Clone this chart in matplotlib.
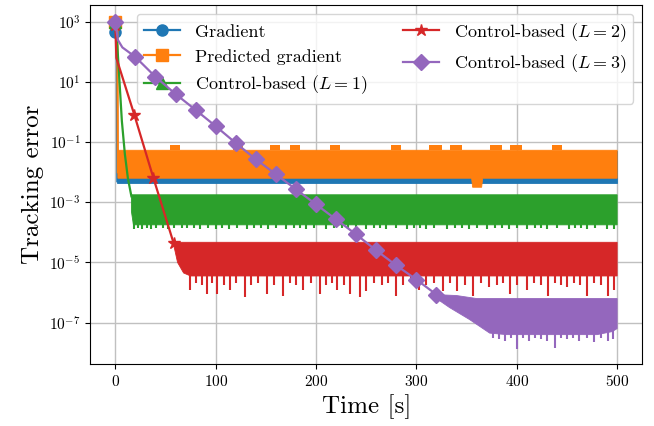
import numpy as np
import matplotlib
matplotlib.use("Agg")
import matplotlib.pyplot as plt
from matplotlib.ticker import FixedLocator, NullLocator

plt.rcParams.update({
    "font.family": "serif",
    "font.serif": ["cmr10"],
    "mathtext.fontset": "cm",
    "axes.formatter.use_mathtext": True,
})

# ---------------- data (log10 of tracking error) ----------------
labels = ["Gradient", "Predicted gradient", r"Control-based ($L=1$)",
          r"Control-based ($L=2$)", r"Control-based ($L=3$)"]
colors = ["#1f77b4", "#ff7f0e", "#2ca02c", "#d62728", "#9467bd"]
markers = ["o", "s", "^", "*", "D"]

# transient parts
grad_t = [0, 1.5, 2.0]
grad_v = [2.67, 2.6, -2.3]
pred_t = [0, 2.0, 2.5]
pred_v = [3.0, 2.9, -2.0]
l1_t = [0, 1, 2, 6.5, 9.5, 12.5, 16]
l1_v = [3.0, 2.5, 2.2, -0.3, -1.4, -2.2, -2.8]
l2_t = [0, 1, 19, 38, 58]
l2_v = [2.9, 1.8, -0.1, -2.2, -4.35]
l3_t = [0, 2.5, 7, 20, 40, 60, 80, 100, 120, 140, 160, 180, 200, 220, 240,
        260, 280, 300, 320]
l3_v = [3.0, 2.4, 2.15, 1.83, 1.17, 0.6, 0.07, -0.47, -1.03, -1.57, -2.07,
        -2.57, -3.07, -3.57, -4.07, -4.6, -5.1, -5.57, -6.07]

# steady-state oscillation bands: upper edge and lower edge
grad_hi_t = [2, 500]
grad_hi = [-1.3, -1.3]
grad_lo_t = [2, 500]
grad_lo = [-2.35, -2.35]

pred_hi_t = [2.5, 500]
pred_hi = [-1.27, -1.27]
pred_lo_t = [2.5, 355, 356, 365, 366, 500]
pred_lo = [-2.2, -2.2, -2.5, -2.5, -2.2, -2.2]
pred_bump_start = [54, 117, 154, 174, 214, 275, 313, 333, 373, 393, 435]
pred_bump_end = [64, 127, 164, 184, 224, 285, 325, 345, 385, 405, 445]
pred_bump_top = -1.1

l1_hi_t = [16, 500]
l1_hi = [-2.75, -2.75]
l1_lo_t = [16, 18, 500]
l1_lo = [-3.3, -3.75, -3.75]
l1_spike_t = [19, 23, 27, 32, 36, 41, 47, 52, 58, 66, 71, 78, 84, 92, 100,
              106, 113, 121, 131, 138, 145, 152, 160, 170, 178, 184, 190, 198,
              210, 218, 226, 232, 240, 250, 258, 264, 270, 280, 291, 298, 304,
              310, 318, 330, 338, 345, 352, 360, 370, 378, 385, 392, 400, 410,
              418, 424, 430, 440, 452, 458, 464, 470, 478, 490, 497]
l1_spike_v = [-3.9, -3.85, -3.88, -3.84, -3.9, -3.86, -3.84, -3.9, -3.86,
              -3.87, -3.84, -3.85, -3.9, -3.85, -3.9, -3.84, -3.88, -3.86,
              -3.9, -3.84, -3.86, -3.9, -3.85, -3.88, -3.84, -3.86, -3.9,
              -3.85, -3.9, -3.86, -3.84, -3.88, -3.85, -3.9, -3.84, -3.86,
              -3.9, -3.85, -3.88, -3.84, -3.86, -3.9, -3.85, -3.9, -3.84,
              -3.86, -3.88, -3.85, -3.9, -3.84, -3.86, -3.9, -3.85, -3.88,
              -3.84, -3.86, -3.9, -3.85, -3.9, -3.84, -3.86, -3.88, -3.85,
              -3.9, -3.9]

l2_hi_t = [58, 500]
l2_hi = [-4.33, -4.33]
l2_lo_t = [58, 62, 68, 75, 500]
l2_lo = [-4.4, -5.0, -5.35, -5.45, -5.45]
l2_spike_t = [74, 80, 86, 91, 96, 101, 108, 114, 120, 129, 135, 142, 151,
              158, 167, 174, 180, 187, 195, 204, 210, 216, 221, 228, 234, 244,
              250, 258, 266, 272, 280, 287, 295, 303, 310, 318, 326, 333, 340,
              348, 356, 364, 372, 380, 386, 393, 400, 410, 417, 424, 431, 438,
              444, 450, 457, 463, 470, 477, 484, 491, 497]
l2_spike_v = [-5.9, -5.7, -5.75, -6.05, -5.7, -6.05, -5.75, -5.9, -5.7, -6.15,
              -5.75, -5.7, -6.05, -5.75, -6.1, -5.7, -5.75, -5.9, -5.7, -6.05,
              -5.75, -5.7, -5.9, -5.75, -6.05, -6.15, -5.95, -5.7, -5.75,
              -5.7, -6.1, -5.75, -5.7, -5.9, -5.75, -5.7, -5.95, -5.7, -5.95,
              -5.75, -6.1, -5.7, -5.8, -5.75, -5.7, -6.05, -5.75, -5.9, -5.7,
              -5.75, -6.1, -5.7, -5.75, -5.8, -5.7, -5.75, -6.1, -5.7, -5.75,
              -6.1, -5.9]

l3_hi_t = [320, 340, 360, 500]
l3_hi = [-6.07, -6.1, -6.2, -6.2]
l3_lo_t = [320, 333, 353, 373, 390, 420, 450, 480, 495, 500]
l3_lo = [-6.2, -6.5, -6.9, -7.35, -7.4, -7.4, -7.4, -7.4, -7.3, -7.2]
l3_spike_t = [376, 382, 388, 394, 400, 406, 412, 418, 424, 430, 438, 444,
              450, 456, 462, 470, 477, 484, 491, 496]
l3_spike_v = [-7.5, -7.55, -7.6, -7.5, -7.87, -7.5, -7.6, -7.5, -7.55, -7.6,
              -7.83, -7.5, -7.55, -7.5, -7.6, -7.5, -7.65, -7.5, -7.6, -7.55]

# ---------------- plotting ----------------
fig = plt.figure(figsize=(6.54, 4.26), dpi=100)
ax = fig.add_axes([0.138, 0.146, 0.844, 0.843])
ax.set_yscale("log")


def pw(v):
    return 10.0 ** np.asarray(v, dtype=float)


def band(ax, hi_t, hi, lo_t, lo, c, z):
    xs = np.r_[hi_t, lo_t[::-1]]
    ys = np.r_[hi, lo[::-1]]
    ax.fill(xs, pw(ys), color=c, lw=0.6, ec=c, zorder=z)


series = [
    (grad_t, grad_v, grad_hi_t, grad_hi, grad_lo_t, grad_lo, None, None),
    (pred_t, pred_v, pred_hi_t, pred_hi, pred_lo_t, pred_lo, None, None),
    (l1_t, l1_v, l1_hi_t, l1_hi, l1_lo_t, l1_lo, l1_spike_t, l1_spike_v),
    (l2_t, l2_v, l2_hi_t, l2_hi, l2_lo_t, l2_lo, l2_spike_t, l2_spike_v),
    (l3_t, l3_v, l3_hi_t, l3_hi, l3_lo_t, l3_lo, l3_spike_t, l3_spike_v),
]
mevery = [[0], [0], [0], [0, 2, 3, 4], [0] + list(range(3, len(l3_t)))]
msizes = [8, 8, 8, 9, 8]

for i, (tt, vv, ht, hv, lt, lv, st, sv) in enumerate(series):
    z = 2 + i
    c = colors[i]
    band(ax, ht, hv, lt, lv, c, z)
    if i == 1:
        for a, b in zip(pred_bump_start, pred_bump_end):
            ax.fill([a, b, b, a], pw([pred_bump_top, pred_bump_top,
                                      pred_hi[0], pred_hi[0]]),
                    color=c, lw=0, zorder=z)
    if st is not None:
        base = lv[-1] + 0.1
        ax.vlines(st, pw([base] * len(st)), pw(sv), color=c, lw=1.5, zorder=z)
    ax.plot(tt, pw(vv), color=c, lw=1.6, marker=markers[i], ms=msizes[i],
            markevery=mevery[i], label=labels[i], zorder=z + 0.5)

ax.set_xlim(-25, 525)
ax.set_ylim(10 ** -8.37, 10 ** 3.57)
ax.yaxis.set_major_locator(FixedLocator([1e-7, 1e-5, 1e-3, 1e-1, 1e1, 1e3]))
ax.yaxis.set_minor_locator(NullLocator())
ax.set_xticks([0, 100, 200, 300, 400, 500])
ax.tick_params(labelsize=11)
ax.grid(True, color="#c0c0c0", lw=1.0)
ax.set_axisbelow(True)
ax.set_xlabel("Time [s]", fontsize=18)
ax.set_ylabel("Tracking error", fontsize=18)
ax.legend(loc="upper right", ncol=2, fontsize=13)

fig.savefig("out.png", dpi=100)
